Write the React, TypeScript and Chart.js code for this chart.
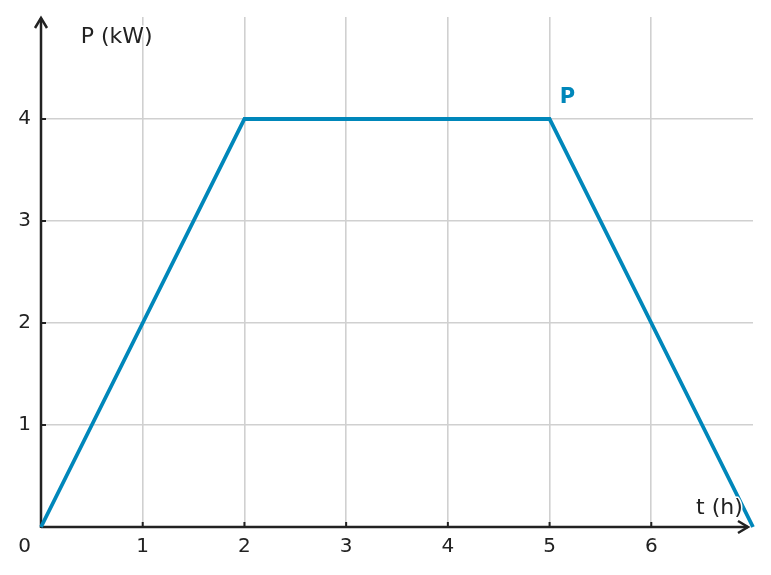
import React, { useEffect, useRef } from 'react';
import { Chart, registerables } from 'chart.js';
Chart.register(...registerables);

// data
const timeHours = [0, 2, 5, 7];
const powerKw = [0, 4, 4, 0];
const xTickValues = [1, 2, 3, 4, 5, 6];
const yTickValues = [1, 2, 3, 4];
const xMax = 7;
const yMax = 5;

const LINE = '#0087ba';
const INK = '#222222';
const GRID = '#d0d0d0';
const FONT = "'DejaVu Sans', sans-serif";
const TICK_SIZE = 20;
const LABEL_SIZE = 22;

const drawLabel = (ctx: CanvasRenderingContext2D, text: string, px: number, py: number, align: CanvasTextAlign, color: string, weight = 'normal', size = LABEL_SIZE) => {
  ctx.font = `${weight} ${size}px ${FONT}`;
  ctx.textAlign = align;
  ctx.textBaseline = 'alphabetic';
  ctx.lineJoin = 'round';
  ctx.strokeStyle = '#ffffff';
  ctx.lineWidth = 3;
  ctx.strokeText(text, px, py);
  ctx.fillStyle = color;
  ctx.fillText(text, px, py);
};

const arrowAxes = {
  id: 'arrowAxes',
  beforeDatasetsDraw(chart: any) {
    const { ctx, chartArea: area, scales } = chart;
    const x = scales.x;
    const y = scales.y;
    const x0 = x.getPixelForValue(0);
    const y0 = y.getPixelForValue(0);
    ctx.save();
    ctx.strokeStyle = INK;

    // short inner tick marks
    ctx.lineWidth = 2;
    ctx.beginPath();
    xTickValues.forEach((v) => {
      const px = x.getPixelForValue(v);
      ctx.moveTo(px, y0);
      ctx.lineTo(px, y0 - 5);
    });
    yTickValues.forEach((v) => {
      const py = y.getPixelForValue(v);
      ctx.moveTo(x0, py);
      ctx.lineTo(x0 + 5, py);
    });
    ctx.stroke();

    // axis lines with open arrow heads
    const xEnd = area.right - 5;
    const yEnd = area.top + 1;
    ctx.lineWidth = 2.5;
    ctx.lineJoin = 'miter';
    ctx.beginPath();
    ctx.moveTo(x0, y0);
    ctx.lineTo(xEnd, y0);
    ctx.moveTo(x0, y0 + 1);
    ctx.lineTo(x0, yEnd);
    ctx.stroke();
    ctx.beginPath();
    ctx.moveTo(xEnd - 10, y0 - 6);
    ctx.lineTo(xEnd, y0);
    ctx.lineTo(xEnd - 10, y0 + 6);
    ctx.moveTo(x0 - 6, yEnd + 10);
    ctx.lineTo(x0, yEnd);
    ctx.lineTo(x0 + 6, yEnd + 10);
    ctx.stroke();

    // shared origin label
    ctx.font = `${TICK_SIZE}px ${FONT}`;
    ctx.fillStyle = INK;
    ctx.textAlign = 'right';
    ctx.textBaseline = 'middle';
    ctx.fillText('0', x0 - 10, y0 + 20);
    ctx.restore();
  },
  afterDatasetsDraw(chart: any) {
    const { ctx, scales } = chart;
    const x = scales.x;
    const y = scales.y;
    ctx.save();
    drawLabel(ctx, 'P (kW)', x.getPixelForValue(0.39), y.getPixelForValue(4.75), 'left', INK);
    drawLabel(ctx, 't (h)', x.getPixelForValue(6.9), y.getPixelForValue(0.13), 'right', INK);
    drawLabel(ctx, 'P', x.getPixelForValue(5.1), y.getPixelForValue(4.16), 'left', LINE, 'bold', 21);
    ctx.restore();
  },
};

const PowerChart = () => {
  const canvasRef = useRef<HTMLCanvasElement | null>(null);

  useEffect(() => {
    document.body.style.margin = '0';
    if (!canvasRef.current) return;

    const gridColor = (allowed: number[]) => (c: any) =>
      allowed.includes(c.tick?.value) ? GRID : 'rgba(0,0,0,0)';

    const chart = new Chart(canvasRef.current, {
      type: 'line',
      data: {
        datasets: [{
          data: timeHours.map((t, i) => ({ x: t, y: powerKw[i] })),
          borderColor: LINE,
          borderWidth: 3.8,
          pointRadius: 0,
          tension: 0,
          clip: false,
        }],
      },
      options: {
        responsive: false,
        animation: false,
        events: [],
        layout: { padding: { top: 17, right: 18, left: 0, bottom: 0 } },
        plugins: { legend: { display: false }, tooltip: { enabled: false } },
        scales: {
          x: {
            type: 'linear',
            min: 0,
            max: xMax,
            border: { display: false },
            grid: { color: gridColor(xTickValues), lineWidth: 1.6, drawTicks: false },
            ticks: {
              stepSize: 1,
              padding: 8,
              color: INK,
              font: { family: FONT, size: TICK_SIZE },
              callback: (v: any) => (xTickValues.includes(v) ? String(v) : ''),
            },
            afterFit: (s: any) => {
              s.height = 48;
              s.paddingLeft = 0;
              s.paddingRight = 0;
            },
          },
          y: {
            type: 'linear',
            min: 0,
            max: yMax,
            border: { display: false },
            grid: { color: gridColor(yTickValues), lineWidth: 1.6, drawTicks: false },
            ticks: {
              stepSize: 1,
              padding: 10,
              color: INK,
              font: { family: FONT, size: TICK_SIZE },
              callback: (v: any) => (yTickValues.includes(v) ? String(v) : ''),
            },
            afterFit: (s: any) => {
              s.width = 41;
              s.paddingTop = 0;
              s.paddingBottom = 0;
            },
          },
        },
      },
      plugins: [arrowAxes],
    });

    return () => chart.destroy();
  }, []);

  return (
    <div style={{ width: '771px', height: '575px' }}>
      <canvas ref={canvasRef} width={771} height={575} />
    </div>
  );
};

const App = () => <PowerChart />;

export default App;
